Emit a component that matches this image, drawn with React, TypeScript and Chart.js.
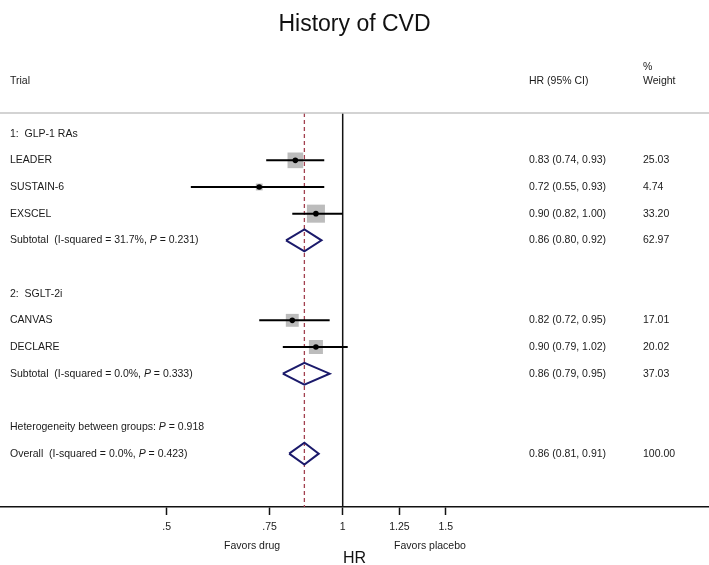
import React, { useEffect, useRef } from "react";
import { Chart, registerables } from "chart.js";

Chart.register(...registerables);

// ---- data ----
const chartTitle = "History of CVD";
const rowLabels = [
  "1:  GLP-1 RAs",
  "LEADER",
  "SUSTAIN-6",
  "EXSCEL",
  "Subtotal  (I-squared = 31.7%, P = 0.231)",
  "",
  "2:  SGLT-2i",
  "CANVAS",
  "DECLARE",
  "Subtotal  (I-squared = 0.0%, P = 0.333)",
  "",
  "Heterogeneity between groups: P = 0.918",
  "Overall  (I-squared = 0.0%, P = 0.423)",
];

const studyNames = ["LEADER", "SUSTAIN-6", "EXSCEL", "CANVAS", "DECLARE"];
const studyRow = [1, 2, 3, 7, 8];
const studyHR = [0.83, 0.72, 0.9, 0.82, 0.9];
const studyLo = [0.74, 0.55, 0.82, 0.72, 0.79];
const studyHi = [0.93, 0.93, 1.0, 0.95, 1.02];
const studyWeight = [25.03, 4.74, 33.2, 17.01, 20.02];

const pooledNames = ["Subtotal GLP-1 RAs", "Subtotal SGLT-2i", "Overall"];
const pooledRow = [4, 9, 12];
const pooledHR = [0.86, 0.86, 0.86];
const pooledLo = [0.8, 0.79, 0.81];
const pooledHi = [0.92, 0.95, 0.91];
const pooledWeight = [62.97, 37.03, 100.0];

const nullValue = 1;
const overallValue = 0.86;

const tickValues = [0.5, 0.75, 1, 1.25, 1.5];
const tickLabels = [".5", ".75", "1", "1.25", "1.5"];

const favorLabels = ["Favors drug", "Favors placebo"];
const favorAt = [0.7, 1.41];

// ---- styles ----
const FONT = "'Liberation Sans', Arial, Helvetica, sans-serif";
const TEXT = "#1a1a1a";
const NAVY = "#1b1a6b";
const GRAY = "#bcbcbc";
const RED = "#a2404f";
const Y_MIN = -0.775;
const Y_MAX = 14.0;
const HALF_DIAMOND = 0.41;

function drawRich(ctx: CanvasRenderingContext2D, text: string, x: number, y: number, size: number) {
  const parts = text.split(/(\bP\b(?= =))/);
  let cx = x;
  for (const p of parts) {
    if (!p) continue;
    ctx.font = (p === "P" ? "italic " : "") + `${size}px ${FONT}`;
    ctx.fillText(p, cx, y);
    cx += ctx.measureText(p).width;
  }
}

const textPlugin = {
  id: "forestText",
  afterDraw(chart: any) {
    const { ctx, chartArea, scales } = chart;
    const x = scales.x;
    const y = scales.y;
    ctx.save();
    // header separator
    ctx.strokeStyle = "#c4c4c4";
    ctx.lineWidth = 1.5;
    ctx.beginPath();
    ctx.moveTo(0, chartArea.top);
    ctx.lineTo(chart.width, chartArea.top);
    ctx.stroke();

    ctx.fillStyle = TEXT;
    ctx.textBaseline = "middle";
    ctx.textAlign = "left";
    const fs = 10.5;
    ctx.font = `${fs}px ${FONT}`;
    const colTrial = 10;
    const colHR = 529;
    const colW = 643;
    // headers
    ctx.fillText("%", colW, chartArea.top - 46);
    ctx.fillText("Trial", colTrial, chartArea.top - 32);
    ctx.fillText("HR (95% CI)", colHR, chartArea.top - 32);
    ctx.fillText("Weight", colW, chartArea.top - 32);

    rowLabels.forEach((lab, i) => {
      if (!lab) return;
      drawRich(ctx, lab, colTrial, y.getPixelForValue(i), fs);
    });
    ctx.font = `${fs}px ${FONT}`;
    const ciText = (h: number, l: number, u: number) =>
      `${h.toFixed(2)} (${l.toFixed(2)}, ${u.toFixed(2)})`;
    studyRow.forEach((r, i) => {
      const py = y.getPixelForValue(r);
      ctx.fillText(ciText(studyHR[i], studyLo[i], studyHi[i]), colHR, py);
      ctx.fillText(studyWeight[i].toFixed(2), colW, py);
    });
    pooledRow.forEach((r, i) => {
      const py = y.getPixelForValue(r);
      ctx.fillText(ciText(pooledHR[i], pooledLo[i], pooledHi[i]), colHR, py);
      ctx.fillText(pooledWeight[i].toFixed(2), colW, py);
    });
    // favors labels
    ctx.textAlign = "center";
    favorLabels.forEach((t, i) => {
      ctx.fillText(t, x.getPixelForValue(favorAt[i]), chartArea.bottom + 39);
    });
    ctx.restore();
  },
};

export default function App() {
  const ref = useRef<HTMLCanvasElement | null>(null);

  useEffect(() => {
    if (!ref.current) return;

    const ciSets = studyRow.map((r, i) => ({
      label: studyNames[i] + " CI",
      data: [
        { x: studyLo[i], y: r },
        { x: studyHi[i], y: r },
      ],
      showLine: true,
      borderColor: "#000",
      borderWidth: 2,
      pointRadius: 0,
      order: 2,
    }));

    const diamondSets = pooledRow.map((r, i) => ({
      label: pooledNames[i],
      data: [
        { x: pooledLo[i], y: r },
        { x: pooledHR[i], y: r - HALF_DIAMOND },
        { x: pooledHi[i], y: r },
        { x: pooledHR[i], y: r + HALF_DIAMOND },
        { x: pooledLo[i], y: r },
      ],
      showLine: true,
      borderColor: NAVY,
      borderWidth: 2,
      pointRadius: 0,
      borderJoinStyle: "miter",
      order: 1,
    }));

    const chart = new Chart(ref.current, {
      type: "scatter",
      data: {
        datasets: [
          {
            label: "estimates",
            data: studyRow.map((r, i) => ({ x: studyHR[i], y: r })),
            pointRadius: 2.8,
            pointBackgroundColor: "#000",
            pointBorderWidth: 0,
            order: 0,
          },
          ...diamondSets,
          ...ciSets,
          {
            label: "weights",
            data: studyRow.map((r, i) => ({ x: studyHR[i], y: r })),
            pointStyle: "rect",
            pointRadius: studyWeight.map((w) => 2.214 * Math.sqrt(w)),
            pointBackgroundColor: GRAY,
            pointBorderWidth: 0,
            order: 3,
          },
          {
            label: "null",
            data: [
              { x: nullValue, y: Y_MIN },
              { x: nullValue, y: Y_MAX },
            ],
            showLine: true,
            borderColor: "#111",
            borderWidth: 1.5,
            pointRadius: 0,
            order: 4,
          },
          {
            label: "overall",
            data: [
              { x: overallValue, y: Y_MIN },
              { x: overallValue, y: Y_MAX },
            ],
            showLine: true,
            borderColor: RED,
            borderWidth: 1.3,
            borderDash: [4, 3],
            pointRadius: 0,
            order: 5,
          },
        ] as any,
      },
      options: {
        animation: false,
        responsive: true,
        maintainAspectRatio: false,
        layout: { padding: 0, autoPadding: false },
        plugins: {
          legend: { display: false },
          tooltip: { enabled: false },
          title: {
            display: true,
            text: chartTitle,
            color: "#111",
            font: { family: FONT, size: 23, weight: "normal", lineHeight: 1.2 },
            padding: { top: 10.5, bottom: 74.9 },
          },
        },
        scales: {
          x: {
            type: "logarithmic",
            min: 0.2595,
            max: 4.229,
            bounds: "data",
            afterBuildTicks: (scale: any) => {
              scale.ticks = tickValues.map((v) => ({ value: v }));
            },
            ticks: {
              autoSkip: false,
              maxRotation: 0,
              padding: 6,
              color: TEXT,
              font: { family: FONT, size: 10.5, lineHeight: 1.2 },
              callback: (_v: any, i: number) => tickLabels[i],
            },
            grid: {
              display: true,
              drawOnChartArea: false,
              drawTicks: true,
              tickLength: 8,
              tickColor: "#111",
              tickWidth: 1.5,
            },
            border: { display: true, color: "#111", width: 1.5 },
            title: {
              display: true,
              text: "HR",
              color: "#111",
              font: { family: FONT, size: 16, lineHeight: 1 },
              padding: { top: 11.4, bottom: -2 },
            },
          },
          y: {
            type: "linear",
            display: false,
            reverse: true,
            min: Y_MIN,
            max: Y_MAX,
            bounds: "data",
          },
        },
      } as any,
      plugins: [textPlugin],
    });

    return () => chart.destroy();
  }, []);

  return (
    <div style={{ position: "fixed", left: 0, top: 0, width: 709, height: 565, background: "#fff" }}>
      <canvas ref={ref} />
    </div>
  );
}
